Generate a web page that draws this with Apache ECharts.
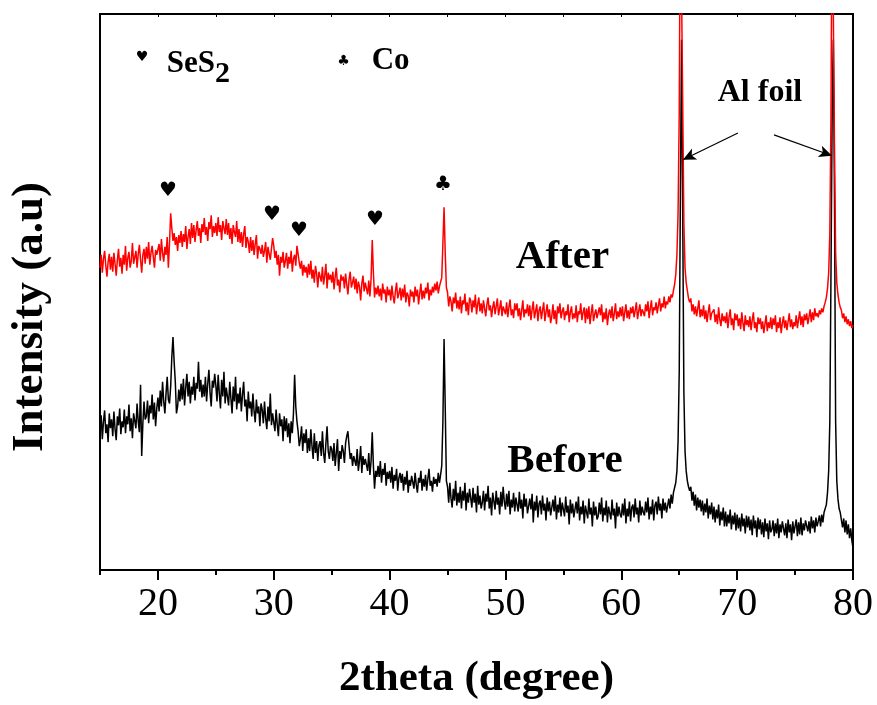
<!DOCTYPE html>
<html>
<head>
<meta charset="utf-8">
<script src="https://cdn.jsdelivr.net/npm/echarts@6/dist/echarts.min.js"></script>
<style>html,body{margin:0;padding:0;background:#fff}#c{width:877px;height:705px}</style>
</head>
<body>
<div id="c"></div>
<script>
// 2theta sampling: 15.0 to 80.0 in 0.1 degree steps
const angleStart = 15;
const angleStep = 0.1;
const xTicks = [20, 30, 40, 50, 60, 70, 80];

// "After" (red) intensity, one value per 0.1 degree
const afterIntensity = [
305,318,300,314,322,307,296,311,319,303,
316,301,320,309,297,313,324,306,315,299,
318,308,327,302,315,321,305,312,330,309,
311,322,305,319,328,313,300,318,324,309,
326,314,331,308,320,327,316,305,323,318,
317,329,312,334,320,311,326,318,336,305,
330,360,345,332,340,328,336,322,338,330,
342,326,339,331,347,324,336,344,329,350,
335,348,331,343,352,337,345,330,349,341,
355,338,346,332,351,344,358,336,347,340,
350,337,356,341,348,333,352,345,339,354,
338,350,334,345,329,348,341,336,352,331,
344,330,341,326,339,347,325,336,331,320,
336,322,333,318,329,338,314,327,324,319,
328,316,322,331,310,326,319,313,324,335,
327,315,322,308,318,297,316,310,321,305,
312,320,304,316,309,322,301,314,318,307,
327,319,310,304,312,297,308,300,306,295,
309,298,312,294,303,290,307,299,285,301,
302,291,306,288,297,309,284,300,293,298,
290,301,283,296,305,287,293,280,298,292,
296,284,299,288,278,293,301,285,290,296,
283,294,279,291,286,272,289,297,281,290,
288,278,292,276,294,333,300,275,285,278,
287,276,284,272,289,279,283,270,286,277,
283,272,287,276,269,281,290,274,279,285,
272,284,275,288,270,280,277,266,283,276,
281,270,286,276,283,268,279,289,273,282,
274,285,279,290,272,283,277,286,280,289,
282,291,279,286,284,295,330,366,320,285,
280,266,276,271,261,275,269,280,264,272,
263,276,259,272,268,279,261,270,257,275,
272,260,272,265,278,258,268,275,261,269,
259,272,264,256,268,275,262,267,255,265,
271,258,266,274,257,264,272,256,266,262,
258,270,255,265,273,257,263,254,269,262,
269,256,264,252,262,272,255,263,259,268,
256,267,252,263,271,254,261,268,251,262,
266,253,262,270,251,260,268,255,263,249,
256,268,253,262,248,266,259,269,254,261,
265,252,261,257,268,250,260,266,253,259,
254,267,250,261,258,269,252,260,265,249,
264,253,266,248,259,268,251,258,263,254,
252,265,257,268,250,260,253,264,247,258,
263,254,266,251,259,269,253,261,255,265,
256,266,251,260,268,254,262,253,265,259,
266,255,262,270,253,261,268,256,263,260,
256,268,261,271,254,264,272,257,265,262,
270,259,267,274,261,269,265,276,264,271,
268,276,270,278,275,282,288,298,318,360,
460,700,700,470,350,305,290,282,274,270,
274,261,268,258,266,256,264,272,255,263,
256,267,253,262,250,260,268,252,259,257,
263,250,258,248,265,253,246,259,251,256,
249,260,244,255,263,247,254,242,259,252,
258,246,254,243,260,249,241,257,247,252,
245,256,242,252,260,244,250,240,255,248,
254,243,251,239,248,257,241,250,244,255,
243,254,247,257,240,250,244,255,239,249,
256,244,252,242,251,259,245,253,243,250,
246,257,244,253,261,247,256,245,258,252,
259,248,255,263,250,260,252,264,256,259,
255,262,258,264,260,266,270,275,284,300,
340,460,700,700,430,320,290,278,270,265,
262,254,259,250,256,248,253,246,251,244,
247
];

// "Before" (black) intensity, one value per 0.1 degree
const beforeIntensity = [
140,156,132,150,161,138,147,129,158,143,
152,135,160,142,131,155,146,163,137,150,
144,162,138,155,147,167,140,153,133,158,
160,143,168,150,139,187,115,148,170,152,
155,171,148,166,158,177,152,169,145,163,
174,160,181,165,190,170,158,178,195,172,
168,185,215,235,210,190,158,165,182,170,
188,172,193,166,184,198,175,190,168,185,
177,195,171,189,183,210,180,192,174,187,
175,195,170,188,202,179,165,191,184,198,
186,170,197,178,163,192,175,200,168,184,
182,166,190,173,158,185,170,195,162,178,
168,184,160,177,190,165,172,150,180,163,
170,155,178,160,149,172,158,165,145,168,
162,148,170,153,142,165,150,178,146,158,
156,140,162,147,135,158,145,152,130,155,
140,153,134,148,128,150,138,158,197,165,
150,140,125,132,145,120,138,128,142,118,
133,120,142,125,112,138,118,130,110,126,
130,115,140,118,108,128,145,120,112,125,
122,110,128,105,118,132,100,120,112,126,
120,108,128,135,140,125,112,118,105,115,
117,105,122,100,110,125,98,115,106,112,
112,100,118,96,110,139,105,82,100,94,
105,94,110,88,102,96,108,85,99,92,
100,88,104,82,96,90,102,80,93,98,
88,97,80,94,86,100,78,91,85,95,
95,82,98,86,78,93,88,100,80,92,
84,96,80,92,102,85,90,79,94,87,
92,84,98,88,96,105,150,233,165,90,
84,68,88,72,63,82,70,90,65,78,
68,84,62,80,70,88,60,78,68,82,
80,63,83,68,77,58,85,66,75,62,
68,80,60,77,69,85,62,73,55,78,
76,61,80,66,73,56,79,64,84,69,
61,77,64,80,56,71,63,78,59,73,
74,59,79,62,71,52,77,64,72,57,
58,72,61,77,48,69,60,75,53,67,
70,56,75,60,67,50,73,59,69,55,
56,71,59,75,51,66,58,73,54,68,
68,54,74,58,65,46,71,57,67,53,
55,69,57,74,50,64,56,70,47,65,
66,52,72,56,63,44,69,55,64,51,
54,68,56,73,49,63,55,70,48,64,
65,51,71,55,62,42,68,54,64,56,
53,67,55,72,47,62,54,69,49,63,
66,53,72,56,63,48,70,55,64,58,
55,69,58,73,51,64,56,71,50,65,
69,56,74,60,67,52,72,60,68,58,
65,72,62,76,67,78,80,88,100,130,
200,380,535,360,180,120,100,90,84,80,
84,70,79,65,76,60,73,63,71,59,
70,55,67,58,72,52,65,56,68,51,
64,48,61,52,66,45,59,50,63,44,
59,44,56,47,61,41,55,46,58,40,
56,42,53,39,57,44,52,37,55,43,
54,40,51,35,55,42,50,33,53,41,
51,36,48,33,52,39,47,31,50,38,
41,50,34,47,37,52,32,46,38,49,
50,35,47,32,51,38,46,30,49,37,
39,51,34,48,36,53,35,47,40,50,
52,39,49,37,54,42,50,38,53,44,
49,55,44,56,48,58,60,66,78,100,
150,300,460,535,380,150,90,72,62,58,
56,43,52,38,50,36,46,32,42,30,
22
];

// Peak markers (SeS2 hearts, Co club)
const markerAngle = [20.87, 29.85, 32.18, 38.74, 44.6];
const markerLevel = [383, 358, 342, 353, 389];
const markerGlyph = ['\u2665', '\u2665', '\u2665', '\u2665', '\u2663'];

// Legend symbols at top left
const keyAngle = [18.63, 36.02];
const keyLevel = [517, 513];
const keyGlyph = ['\u2665', '\u2663'];

// Text annotations
const noteText = ['After', 'Before', 'Al foil'];
const noteAngle = [54.92, 55.14, 71.97];
const noteLevel = [315, 110, 482];
const noteSize = [41, 41, 32];
const keyText = ['{m|SeS}{s|2}', '{m|Co}'];
const keyTextAngle = [20.76, 38.45];
const keyTextLevel = [511, 514];

// Arrows pointing to the Al foil peaks
const arrowFrom = [[70.07, 441], [73.18, 439]];
const arrowTo = [[65.32, 414], [78.19, 418]];

const yMax = 561;

const twoTheta = afterIntensity.map((_, i) => +(angleStart + i * angleStep).toFixed(1));
const afterData = twoTheta.map((x, i) => [x, afterIntensity[i]]);
const beforeData = twoTheta.map((x, i) => [x, beforeIntensity[i]]);

const serif = '"Times New Roman", "Liberation Serif", serif';
const solid = {opacity: 1, color: '#000'};

const chart = echarts.init(document.getElementById('c'), null, {renderer: 'canvas'});
chart.setOption({
  animation: false,
  backgroundColor: '#fff',
  grid: {left: 100, right: 24, top: 14, bottom: 130, show: true, borderColor: '#000', borderWidth: 2, backgroundColor: 'transparent'},
  xAxis: [
    {
      type: 'value', min: 15, max: 80, position: 'bottom',
      name: '2theta (degree)', nameLocation: 'middle', nameGap: 87,
      nameTextStyle: {fontFamily: serif, fontWeight: 'bold', fontSize: 43, color: '#000'},
      axisLine: {show: true, lineStyle: {color: '#000', width: 2}},
      axisTick: {show: true, customValues: xTicks, length: 10, inside: false, lineStyle: {color: '#000', width: 2}},
      axisLabel: {show: true, customValues: xTicks, fontFamily: serif, fontSize: 40, color: '#000', margin: 14},
      splitLine: {show: false}
    },
    {
      type: 'value', min: 15, max: 80, interval: 5, position: 'bottom',
      axisLine: {show: false},
      axisTick: {show: true, length: 5, inside: false, lineStyle: {color: '#000', width: 2}},
      axisLabel: {show: false},
      splitLine: {show: false}
    },
    {
      type: 'value', min: 15, max: 80, interval: 5, position: 'top',
      axisLine: {show: true, lineStyle: {color: '#000', width: 2}},
      axisTick: {show: true, length: 3, inside: true, lineStyle: {color: '#000', width: 1}},
      axisLabel: {show: false},
      splitLine: {show: false}
    }
  ],
  yAxis: [{
    type: 'value', min: 0, max: yMax, position: 'left',
    name: 'Intensity (a.u)', nameLocation: 'middle', nameGap: 47,
    nameTextStyle: {fontFamily: serif, fontWeight: 'bold', fontSize: 45, color: '#000', padding: [0, 50, 0, 0]},
    axisLine: {show: true, lineStyle: {color: '#000', width: 2}},
    axisTick: {show: false},
    axisLabel: {show: false},
    splitLine: {show: false}
  }],
  series: [
    {
      name: 'Before', type: 'line', data: beforeData, showSymbol: false, clip: true,
      lineStyle: {color: '#000', width: 1.5}, itemStyle: {color: '#000'}, z: 2
    },
    {
      name: 'After', type: 'line', data: afterData, showSymbol: false, clip: true,
      lineStyle: {color: '#ff0000', width: 1.5}, itemStyle: {color: '#ff0000'}, z: 3,
      markLine: {
        silent: true, symbol: ['none', 'arrow'], symbolSize: [9, 13],
        lineStyle: {color: '#000', width: 1.2, type: 'solid'},
        label: {show: false},
        data: arrowFrom.map((p, i) => [{coord: p}, {coord: arrowTo[i]}])
      }
    },
    {
      type: 'scatter', symbolSize: 0, z: 5, silent: true, itemStyle: solid,
      data: markerAngle.map((x, i) => ({value: [x, markerLevel[i]], name: markerGlyph[i]})),
      label: {show: true, position: 'inside', formatter: p => p.name, fontFamily: 'DejaVu Sans', fontSize: 20, color: '#000', opacity: 1}
    },
    {
      type: 'scatter', symbolSize: 0, z: 5, silent: true, itemStyle: solid,
      data: keyAngle.map((x, i) => ({value: [x, keyLevel[i]], name: keyGlyph[i]})),
      label: {show: true, position: 'inside', formatter: p => p.name, fontFamily: 'DejaVu Sans', fontSize: 14, color: '#000', opacity: 1}
    },
    {
      type: 'scatter', symbolSize: 0, z: 5, silent: true, itemStyle: solid,
      data: noteText.map((t, i) => ({value: [noteAngle[i], noteLevel[i]], name: t,
        label: {fontSize: noteSize[i]}})),
      label: {show: true, position: 'inside', formatter: p => p.name, fontFamily: serif, fontWeight: 'bold', color: '#000', opacity: 1}
    },
    {
      type: 'scatter', symbolSize: 0, z: 5, silent: true, itemStyle: solid,
      data: keyText.map((t, i) => ({value: [keyTextAngle[i], keyTextLevel[i]], name: t})),
      label: {
        show: true, position: 'right', distance: 0, formatter: p => p.name, opacity: 1,
        rich: {
          m: {fontFamily: serif, fontWeight: 'bold', fontSize: 31, color: '#000', lineHeight: 34},
          s: {fontFamily: serif, fontWeight: 'bold', fontSize: 30, color: '#000', lineHeight: 34, padding: [22, 0, 0, 0]}
        }
      }
    }
  ]
});
</script>
</body>
</html>
